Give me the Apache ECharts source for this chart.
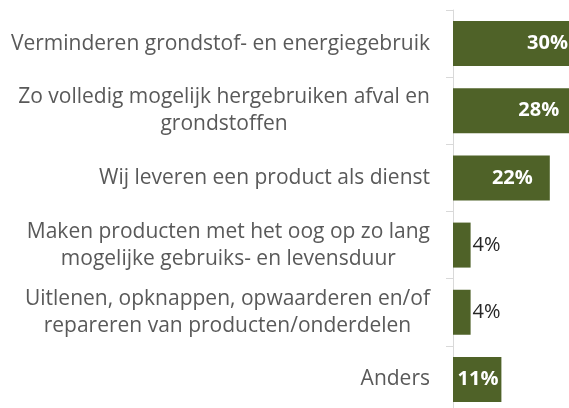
<!DOCTYPE html>
<html>
<head>
<meta charset="utf-8">
<script src="https://cdn.jsdelivr.net/npm/echarts@6/dist/echarts.min.js"></script>
<style>
html,body{margin:0;padding:0;background:#fff;}
#chart{width:569px;height:408px;}
</style>
</head>
<body>
<div id="chart"></div>
<script>
const categories = [
  "Verminderen grondstof- en energiegebruik",
  "Zo volledig mogelijk hergebruiken afval en\ngrondstoffen",
  "Wij leveren een product als dienst",
  "Maken producten met het oog op zo lang\nmogelijke gebruiks- en levensduur",
  "Uitlenen, opknappen, opwaarderen en/of\nrepareren van producten/onderdelen",
  "Anders"
];
const values = [30, 28, 22, 4, 4, 11];

const FONT = '"Open Sans"';
const barColor = '#4f6228';

function labelFor(v) {
  if (v < 8) {
    return { show: true, position: 'right', distance: 2, color: '#262626', fontWeight: 'normal' };
  }
  if (v < 15) {
    return { show: true, position: 'insideRight', distance: 3, color: '#ffffff', fontWeight: 'bold' };
  }
  return { show: true, position: 'insideRight', distance: 17, color: '#ffffff', fontWeight: 'bold' };
}

const chart = echarts.init(document.getElementById('chart'), null, { renderer: 'canvas' });
chart.setOption({
  animation: false,
  backgroundColor: '#ffffff',
  grid: { left: 453, top: 10, width: 176, height: 403, containLabel: false, outerBoundsMode: 'none' },
  xAxis: { type: 'value', min: 0, max: 40, show: false },
  yAxis: {
    type: 'category',
    data: categories,
    inverse: true,
    axisLine: { show: true, lineStyle: { color: '#d9d9d9', width: 1 } },
    axisTick: { show: true, length: 7, lineStyle: { color: '#d9d9d9' } },
    axisLabel: {
      margin: 23,
      color: '#595959',
      fontFamily: FONT,
      fontSize: 21,
      lineHeight: 27,
      align: 'right',
      formatter: function (val) {
        return val.split('\n').map(function (l) { return '{c|' + l + '}'; }).join('\n');
      },
      rich: { c: { align: 'center', color: '#595959', fontFamily: FONT, fontSize: 21, lineHeight: 27 } }
    }
  },
  series: [{
    type: 'bar',
    barCategoryGap: '33%',
    itemStyle: { color: barColor },
    label: { fontFamily: FONT, fontSize: 20, formatter: '{c}%' },
    data: values.map(function (v) { return { value: v, label: labelFor(v) }; })
  }]
});
</script>
</body>
</html>
